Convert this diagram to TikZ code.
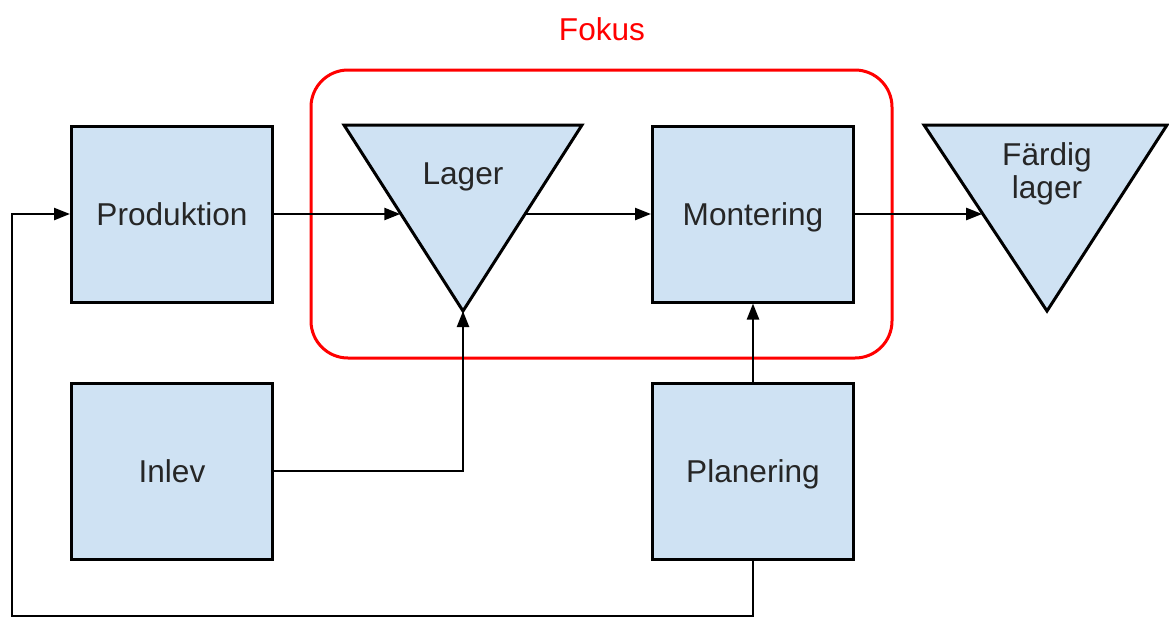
\documentclass[tikz,border=0pt]{standalone}
\usepackage{fontspec}
\setmainfont{Liberation Sans}
\usepackage{tikz}
\usetikzlibrary{positioning, arrows.meta, calc}
\definecolor{boxblue}{HTML}{CFE2F3}

\begin{document}
\begin{tikzpicture}[x=0.5pt,y=-0.5pt,
    every node/.style={font=\fontsize{15.8}{16.5}\selectfont,text=black!85},
    label/.style={text height=11.5pt,text depth=0pt},
    block/.style={draw,line width=1.5pt,fill=boxblue,minimum width=100.5pt,minimum height=88pt,inner sep=0pt,label},
    tri/.style={draw,line width=1.5pt,fill=boxblue,line join=miter},
    flow/.style={line width=1.2pt,-{Triangle[length=8pt,width=6pt]}}]
\useasboundingbox (0,0) rectangle (1169,618);

% focus frame
\draw[red,line width=1.5pt,rounded corners=18.5pt] (311,70) rectangle (892,358);
\node[text=red,label] (fokus) at (602,29) {Fokus};

% boxes
\node[block] (prod) at (172,214) {Produktion};
\node[block] (mont) at (753,214) {Montering};
\node[block] (inlev) at (172,471) {Inlev};
\node[block] (plan) at (753,471) {Planering};

% stores
\coordinate (lagerA) at (344,125);
\coordinate (lagerB) at (582,125);
\coordinate (lagerC) at (463,311);
\draw[tri] (lagerA) -- (lagerB) -- (lagerC) -- cycle;
\node[label] (lager) at (463,173) {Lager};
\coordinate (fardigA) at (924,125);
\coordinate (fardigB) at (1167,125);
\coordinate (fardigC) at (1047,311);
\draw[tri] (fardigA) -- (fardigB) -- (fardigC) -- cycle;
\node[align=center] (fardig) at (1047,174) {Färdig\\lager};

% flows
\coordinate (lagerin) at ($(lagerA)!0.473!(lagerC)$);
\coordinate (lagerout) at ($(lagerB)!0.473!(lagerC)$);
\coordinate (fardigin) at ($(fardigA)!0.473!(fardigC)$);
\coordinate (loop) at (12,616);
\draw[flow] (prod.east) -- (prod.east -| lagerin);
\draw[flow] (mont.west -| lagerout) -- (mont.west);
\draw[flow] (mont.east) -- (mont.east -| fardigin);
\draw[flow] (inlev.east) -| (lagerC);
\draw[flow] (plan.north) -- (mont.south);
\draw[flow] (plan.south) |- (loop) |- (prod.west);
\end{tikzpicture}
\end{document}
